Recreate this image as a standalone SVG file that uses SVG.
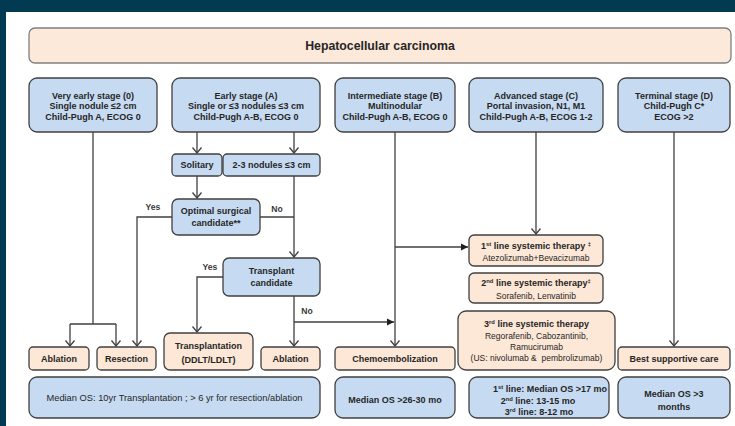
<svg xmlns="http://www.w3.org/2000/svg" width="735" height="426" viewBox="0 0 735 426">
<style>
.t{font-family:"Liberation Sans",Arial,sans-serif;font-size:9px;fill:#262626;text-anchor:middle}
.b{font-weight:bold}
.s{font-size:8.5px}
.blue{fill:#c6dbf2;stroke:#404040;stroke-width:1.3}
.peach{fill:#fde7d6;stroke:#404040;stroke-width:1.3}
.c{fill:none;stroke:#404040;stroke-width:1.3}
.lbl{font-family:"Liberation Sans",Arial,sans-serif;font-size:8.6px;font-weight:bold;fill:#3a3a3a;text-anchor:middle}
</style>
<defs>
<marker id="open" viewBox="-7 -6 8 12" markerWidth="8" markerHeight="12" refX="0" refY="0" orient="auto" markerUnits="userSpaceOnUse">
<path d="M-5.5,-4.5 L0,0 L-5.5,4.5" fill="none" stroke="#404040" stroke-width="1.3"/>
</marker>
<marker id="fill" viewBox="-8 -5 9 10" markerWidth="9" markerHeight="10" refX="0" refY="0" orient="auto" markerUnits="userSpaceOnUse">
<path d="M-7,-3.5 L0,0 L-7,3.5 Z" fill="#202020"/>
</marker>
</defs>
<rect x="0" y="0" width="735" height="426" fill="#023a52"/>
<rect x="6" y="12" width="729" height="414" fill="#ffffff"/>

<g id="connectors">
<path class="c" d="M93,132 V324 M70,324 H116"/>
<path class="c" d="M70,324 V346" marker-end="url(#open)"/>
<path class="c" d="M116,324 V346" marker-end="url(#open)"/>
<path class="c" d="M197,132 V153" marker-end="url(#open)"/>
<path class="c" d="M294,132 V153" marker-end="url(#open)"/>
<path class="c" d="M197,176 V198" marker-end="url(#open)"/>
<path class="c" d="M172,217 H137 V346" marker-end="url(#open)"/>
<path class="c" d="M260,217 H294"/>
<path class="c" d="M294,176 V257" marker-end="url(#open)"/>
<path class="c" d="M223,277 H197 V332" marker-end="url(#open)"/>
<path class="c" d="M294,296 V346" marker-end="url(#open)"/>
<path class="c" d="M294,322 H394" marker-end="url(#fill)"/>
<path class="c" d="M395,132 V346" marker-end="url(#open)"/>
<path class="c" d="M395,247 H468" marker-end="url(#fill)"/>
<path class="c" d="M536,132 V234" marker-end="url(#open)"/>
<path class="c" d="M674,132 V346" marker-end="url(#open)"/>
<text class="lbl" x="153" y="210">Yes</text>
<text class="lbl" x="277" y="212">No</text>
<text class="lbl" x="210" y="270">Yes</text>
<text class="lbl" x="307" y="314">No</text>
</g>

<g id="title">
<rect x="29" y="28" width="702" height="35" rx="6" fill="#fde9d9" stroke="#808080" stroke-width="1.3"/>
<text class="t b" x="380" y="50" style="font-size:12.3px">Hepatocellular carcinoma</text>
</g>

<g id="stage0">
<rect class="blue" x="29" y="78" width="128" height="54" rx="8"/>
<text class="t b" x="93" y="98.5">Very early stage (0)</text>
<text class="t b" x="93" y="109">Single nodule ≤2 cm</text>
<text class="t b" x="93" y="119.5">Child-Pugh A, ECOG 0</text>
</g>
<g id="stageA">
<rect class="blue" x="172" y="78" width="148" height="54" rx="8"/>
<text class="t b" x="246" y="98.5">Early stage (A)</text>
<text class="t b" x="246" y="109">Single or ≤3 nodules ≤3 cm</text>
<text class="t b" x="246" y="119.5">Child-Pugh A-B, ECOG 0</text>
</g>
<g id="stageB">
<rect class="blue" x="335" y="78" width="120" height="54" rx="8"/>
<text class="t b" x="395" y="98.5">Intermediate stage (B)</text>
<text class="t b" x="395" y="109">Multinodular</text>
<text class="t b" x="395" y="119.5">Child-Pugh A-B, ECOG 0</text>
</g>
<g id="stageC">
<rect class="blue" x="469" y="78" width="134" height="54" rx="8"/>
<text class="t b" x="536" y="98.5">Advanced stage (C)</text>
<text class="t b" x="536" y="109">Portal invasion, N1, M1</text>
<text class="t b" x="536" y="119.5">Child-Pugh A-B, ECOG 1-2</text>
</g>
<g id="stageD">
<rect class="blue" x="618" y="78" width="112" height="54" rx="8"/>
<text class="t b" x="674" y="98.5">Terminal stage (D)</text>
<text class="t b" x="674" y="109">Child-Pugh C*</text>
<text class="t b" x="674" y="119.5">ECOG &gt;2</text>
</g>

<g id="solitary">
<rect class="blue" x="172" y="154" width="50" height="22" rx="4"/>
<text class="t b" x="197" y="168">Solitary</text>
</g>
<g id="nodules">
<rect class="blue" x="223" y="154" width="97" height="22" rx="4"/>
<text class="t b" x="271.5" y="168">2-3 nodules ≤3 cm</text>
</g>
<g id="optimal">
<rect class="blue" x="172" y="199" width="88" height="36" rx="6"/>
<text class="t b" x="216" y="214">Optimal surgical</text>
<text class="t b" x="216" y="226">candidate**</text>
</g>
<g id="transplantCandidate">
<rect class="blue" x="223" y="258" width="97" height="38" rx="6"/>
<text class="t b" x="271.5" y="274">Transplant</text>
<text class="t b" x="271.5" y="286">candidate</text>
</g>

<g id="ablation1">
<rect class="peach" x="29" y="347" width="60" height="23" rx="4"/>
<text class="t b" x="59" y="362">Ablation</text>
</g>
<g id="resection">
<rect class="peach" x="97" y="347" width="59" height="23" rx="4"/>
<text class="t b" x="126.5" y="362">Resection</text>
</g>
<g id="transplantation">
<rect class="peach" x="164" y="333" width="89" height="37" rx="6"/>
<text class="t b" x="208.5" y="349">Transplantation</text>
<text class="t b" x="208.5" y="363">(DDLT/LDLT)</text>
</g>
<g id="ablation2">
<rect class="peach" x="261" y="347" width="59" height="23" rx="4"/>
<text class="t b" x="290.5" y="362">Ablation</text>
</g>
<g id="chemo">
<rect class="peach" x="335" y="347" width="120" height="23" rx="4"/>
<text class="t b" x="395" y="362">Chemoembolization</text>
</g>
<g id="line1">
<rect class="peach" x="469" y="235" width="134" height="31" rx="5"/>
<text class="t b" x="536" y="249">1<tspan font-size="5.8" dy="-3">st</tspan><tspan dy="3"> line systemic therapy </tspan><tspan font-size="5.8" dy="-3">‡</tspan></text>
<text class="t s" x="536" y="261">Atezolizumab+Bevacizumab</text>
</g>
<g id="line2">
<rect class="peach" x="469" y="273" width="134" height="30" rx="5"/>
<text class="t b" x="536" y="286">2<tspan font-size="5.8" dy="-3">nd</tspan><tspan dy="3"> line systemic therapy</tspan><tspan font-size="5.8" dy="-3">‡</tspan></text>
<text class="t s" x="536" y="298.5">Sorafenib, Lenvatinib</text>
</g>
<g id="line3">
<rect class="peach" x="458" y="311" width="157" height="59" rx="8"/>
<text class="t b" x="536.5" y="326.5">3<tspan font-size="5.8" dy="-3">rd</tspan><tspan dy="3"> line systemic therapy</tspan></text>
<text class="t s" x="536.5" y="339">Regorafenib, Cabozantinib,</text>
<text class="t s" x="536.5" y="350">Ramucirumab</text>
<text class="t s" x="536.5" y="361" xml:space="preserve">(US: nivolumab &amp;  pembrolizumab)</text>
</g>
<g id="bsc">
<rect class="peach" x="618" y="347" width="112" height="23" rx="4"/>
<text class="t b" x="674" y="362">Best supportive care</text>
</g>

<g id="os1">
<rect class="blue" x="29" y="377" width="291" height="41" rx="8"/>
<text class="t" x="174.5" y="401" style="font-size:9.3px">Median OS: 10yr Transplantation ; &gt; 6 yr for resection/ablation</text>
</g>
<g id="os2">
<rect class="blue" x="335" y="377" width="120" height="41" rx="8"/>
<text class="t b" x="395" y="403">Median OS &gt;26-30 mo</text>
</g>
<g id="os3">
<rect class="blue" x="469" y="377" width="140" height="41" rx="8"/>
<text class="t b" x="550" y="392">1<tspan font-size="5.8" dy="-3">st</tspan><tspan dy="3"> line: Median OS &gt;17 mo</tspan></text>
<text class="t b" x="538" y="403.5">2<tspan font-size="5.8" dy="-3">nd</tspan><tspan dy="3"> line: 13-15 mo</tspan></text>
<text class="t b" x="539" y="415">3<tspan font-size="5.8" dy="-3">rd</tspan><tspan dy="3"> line: 8-12 mo</tspan></text>
</g>
<g id="os4">
<rect class="blue" x="618" y="377" width="112" height="41" rx="8"/>
<text class="t b" x="674" y="397">Median OS &gt;3</text>
<text class="t b" x="674" y="410">months</text>
</g>
</svg>
